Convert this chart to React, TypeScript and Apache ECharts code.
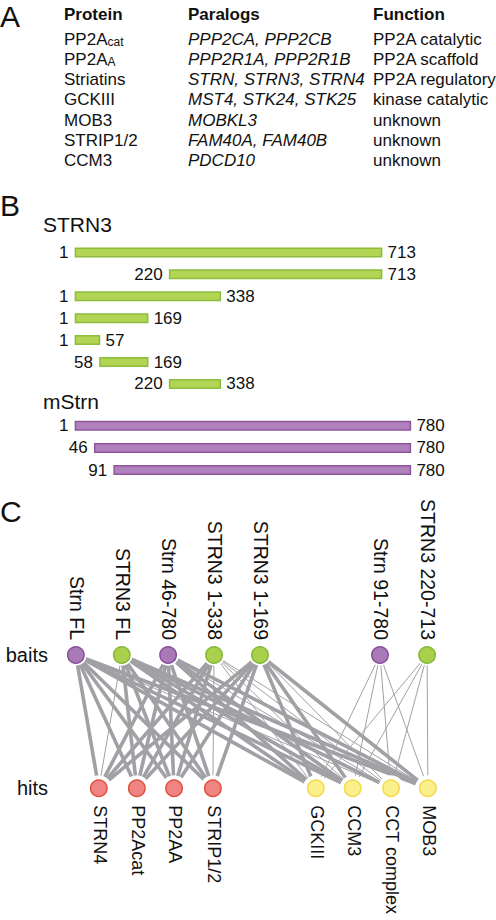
import React, { useEffect, useRef } from "react";
import * as echarts from "echarts";

const FONT = '"Liberation Sans", Arial, Helvetica, sans-serif';
const INK = "#111111";

// ---------- Panel A: table ----------
const tableHeaders = ["Protein", "Paralogs", "Function"];
const proteinNames = ["PP2A", "PP2A", "Striatins", "GCKIII", "MOB3", "STRIP1/2", "CCM3"];
const proteinSubscripts = ["cat", "A", "", "", "", "", ""];
const paralogs = [
  "PPP2CA, PPP2CB",
  "PPP2R1A, PPP2R1B",
  "STRN, STRN3, STRN4",
  "MST4, STK24, STK25",
  "MOBKL3",
  "FAM40A, FAM40B",
  "PDCD10",
];
const functions = [
  "PP2A catalytic",
  "PP2A scaffold",
  "PP2A regulatory",
  "kinase catalytic",
  "unknown",
  "unknown",
  "unknown",
];

// ---------- Panel B: constructs ----------
const strn3Title = "STRN3";
const strn3Starts = [1, 220, 1, 1, 1, 58, 220];
const strn3Ends = [713, 713, 338, 169, 57, 169, 338];
const mStrnTitle = "mStrn";
const mStrnStarts = [1, 46, 91];
const mStrnEnds = [780, 780, 780];

// ---------- Panel C: network ----------
const levels = ["baits", "hits"];
const baits = ["Strn FL", "STRN3 FL", "Strn 46-780", "STRN3 1-338", "STRN3 1-169", "Strn 91-780", "STRN3 220-713"];
const baitProtein = ["mStrn", "STRN3", "mStrn", "STRN3", "STRN3", "mStrn", "STRN3"];
const hits = ["STRN4", "PP2Acat", "PP2AA", "STRIP1/2", "GCKIII", "CCM3", "CCT complex", "MOB3"];
const hitGroup = ["core", "core", "core", "core", "kinase", "kinase", "kinase", "kinase"];
// rows: baits, columns: hits; 2 = strong, 1 = weak, 0 = none
const interactionStrength = [
  [2, 2, 2, 2, 2, 2, 1, 2],
  [1, 2, 2, 2, 2, 2, 2, 2],
  [2, 2, 2, 2, 2, 2, 1, 2],
  [2, 2, 2, 1, 1, 1, 1, 1],
  [2, 2, 2, 2, 2, 2, 1, 2],
  [0, 0, 0, 0, 1, 1, 1, 1],
  [0, 0, 0, 0, 1, 1, 1, 1],
];

// ---------- layout (not data) ----------
const baitX = [4.0, 15.6, 27.3, 38.9, 50.5, 80.8, 92.7];
const hitX = [9.8, 19.4, 28.8, 38.6, 64.6, 73.9, 83.6, 92.9];
const colX = [64, 188, 373];

const proteinColors: Record<string, { fill: string; stroke: string }> = {
  STRN3: { fill: "#b2d554", stroke: "#8dbb3c" },
  mStrn: { fill: "#b082bd", stroke: "#8e559b" },
};
const nodeColors: Record<string, { fill: string; stroke: string }> = {
  STRN3: { fill: "#a9d04a", stroke: "#86b83a" },
  mStrn: { fill: "#a878b7", stroke: "#87509a" },
  core: { fill: "#f08482", stroke: "#df5340" },
  kinase: { fill: "#fbee8c", stroke: "#f2da4a" },
};

function buildOption() {
  const graphics: any[] = [];
  const letter = (t: string, y: number) => ({
    type: "text",
    x: 0,
    y,
    style: { text: t, fontSize: 30, fontFamily: FONT, fill: INK, align: "left", verticalAlign: "middle" },
  });
  graphics.push(letter("A", 16), letter("B", 205), letter("C", 511.5));

  tableHeaders.forEach((h, i) => {
    graphics.push({
      type: "text",
      x: colX[i],
      y: 14,
      style: { text: h, fontSize: 17, fontWeight: "bold", fontFamily: FONT, fill: INK, align: "left", verticalAlign: "middle" },
    });
  });
  const rowY = (i: number) => 39 + 20.28 * i;
  proteinNames.forEach((p, i) => {
    const sub = proteinSubscripts[i];
    graphics.push({
      type: "text",
      x: colX[0],
      y: rowY(i),
      style: {
        text: sub ? `${p}{s|${sub}}` : p,
        fontSize: 17,
        fontFamily: FONT,
        fill: INK,
        align: "left",
        verticalAlign: "middle",
        rich: { s: { fontSize: 12, fontFamily: FONT, fill: INK, verticalAlign: "bottom" } },
      },
    });
    graphics.push({
      type: "text",
      x: colX[1],
      y: rowY(i),
      style: { text: paralogs[i], fontSize: 17, fontStyle: "italic", fontFamily: FONT, fill: INK, align: "left", verticalAlign: "middle" },
    });
    graphics.push({
      type: "text",
      x: colX[2],
      y: rowY(i),
      style: { text: functions[i], fontSize: 17, fontFamily: FONT, fill: INK, align: "left", verticalAlign: "middle" },
    });
  });
  graphics.push({
    type: "text",
    x: 43,
    y: 224.5,
    style: { text: strn3Title, fontSize: 21, fontFamily: FONT, fill: INK, align: "left", verticalAlign: "middle" },
  });
  graphics.push({
    type: "text",
    x: 43,
    y: 401,
    style: { text: mStrnTitle, fontSize: 21, fontFamily: FONT, fill: INK, align: "left", verticalAlign: "middle" },
  });

  const barRender = (colorKey: string) => (params: any, api: any) => {
    const s = api.value(0);
    const e = api.value(1);
    const row = api.value(2);
    const p0 = api.coord([s, row]);
    const p1 = api.coord([e, row]);
    const h = 8.5;
    const c = proteinColors[colorKey];
    const txt = (t: string, x: number, align: string) => ({
      type: "text",
      x,
      y: p0[1],
      style: { text: t, fontSize: 17, fontFamily: FONT, fill: INK, align, verticalAlign: "middle" },
    });
    return {
      type: "group",
      children: [
        {
          type: "rect",
          shape: { x: p0[0], y: p0[1] - h / 2, width: p1[0] - p0[0], height: h },
          style: { fill: c.fill, stroke: c.stroke, lineWidth: 1.5 },
        },
        txt(String(s), p0[0] - 7, "right"),
        txt(String(e), p1[0] + 6, "left"),
      ],
    };
  };

  const edgeData: number[][] = [];
  interactionStrength.forEach((row, b) =>
    row.forEach((w, h) => {
      if (w > 0) edgeData.push([baitX[b], 0, hitX[h], 1, w]);
    })
  );

  const nodeRender = (isBait: boolean) => (params: any, api: any) => {
    const i = params.dataIndex;
    const p = api.coord([api.value(0), api.value(1)]);
    const r = 8.2;
    const c = isBait ? nodeColors[baitProtein[i]] : nodeColors[hitGroup[i]];
    const label = isBait ? baits[i] : hits[i];
    return {
      type: "group",
      children: [
        { type: "circle", shape: { cx: p[0], cy: p[1], r: isBait ? 10.8 : 13 }, style: { fill: "#ffffff" } },
        { type: "circle", shape: { cx: p[0], cy: p[1], r }, style: { fill: c.fill, stroke: c.stroke, lineWidth: 1.5 } },
        {
          type: "text",
          x: p[0] + 1,
          y: isBait ? p[1] - 15 : p[1] + 17,
          rotation: -Math.PI / 2,
          style: {
            text: label,
            fontSize: isBait ? 19.5 : 18,
            fontFamily: FONT,
            fill: INK,
            align: isBait ? "right" : "left",
            verticalAlign: "middle",
          },
        },
      ],
    };
  };

  return {
    animation: false,
    backgroundColor: "#ffffff",
    graphic: { elements: graphics },
    grid: [
      { left: 75, width: 344, top: 241.5, height: 153.4 },
      { left: 75, width: 344, top: 414.75, height: 66.3 },
      { left: 60, width: 396, top: 655, height: 133.3 },
    ],
    xAxis: [
      { type: "value", gridIndex: 0, min: 0, max: 800, show: false },
      { type: "value", gridIndex: 1, min: 0, max: 800, show: false },
      { type: "value", gridIndex: 2, min: 0, max: 100, show: false },
    ],
    yAxis: [
      { type: "category", gridIndex: 0, inverse: true, data: strn3Starts.map((s, i) => `${s}-${strn3Ends[i]}`), show: false },
      { type: "category", gridIndex: 1, inverse: true, data: mStrnStarts.map((s, i) => `${s}-${mStrnEnds[i]}`), show: false },
      {
        type: "category",
        gridIndex: 2,
        inverse: true,
        boundaryGap: false,
        data: levels,
        axisLine: { show: false },
        axisTick: { show: false },
        splitLine: { show: false },
        axisLabel: { fontSize: 20, fontFamily: FONT, color: INK, margin: 12 },
      },
    ],
    series: [
      {
        type: "custom",
        xAxisIndex: 0,
        yAxisIndex: 0,
        renderItem: barRender("STRN3"),
        data: strn3Starts.map((s, i) => [s, strn3Ends[i], i]),
        encode: { x: [0, 1], y: 2 },
      },
      {
        type: "custom",
        xAxisIndex: 1,
        yAxisIndex: 1,
        renderItem: barRender("mStrn"),
        data: mStrnStarts.map((s, i) => [s, mStrnEnds[i], i]),
        encode: { x: [0, 1], y: 2 },
      },
      {
        type: "custom",
        xAxisIndex: 2,
        yAxisIndex: 2,
        z: 2,
        data: edgeData,
        encode: { x: [0, 2], y: [1, 3] },
        renderItem: (params: any, api: any) => {
          const p0 = api.coord([api.value(0), api.value(1)]);
          const p1 = api.coord([api.value(2), api.value(3)]);
          const w = api.value(4);
          return {
            type: "line",
            shape: { x1: p0[0], y1: p0[1], x2: p1[0], y2: p1[1] },
            style: { stroke: "#a1a1a5", lineWidth: w === 2 ? 3.6 : 1.0 },
          };
        },
      },
      {
        type: "custom",
        xAxisIndex: 2,
        yAxisIndex: 2,
        z: 3,
        data: baits.map((_, i) => [baitX[i], 0]),
        renderItem: nodeRender(true),
      },
      {
        type: "custom",
        xAxisIndex: 2,
        yAxisIndex: 2,
        z: 3,
        data: hits.map((_, i) => [hitX[i], 1]),
        renderItem: nodeRender(false),
      },
    ],
  };
}

export default function App() {
  const ref = useRef<HTMLDivElement>(null);
  useEffect(() => {
    if (!ref.current) return;
    const chart = echarts.init(ref.current, null, { renderer: "svg" });
    chart.setOption(buildOption() as any);
    return () => chart.dispose();
  }, []);
  return (
    <div
      ref={ref}
      style={{ position: "absolute", left: 0, top: 0, width: 496, height: 920, background: "#fff" }}
    />
  );
}
